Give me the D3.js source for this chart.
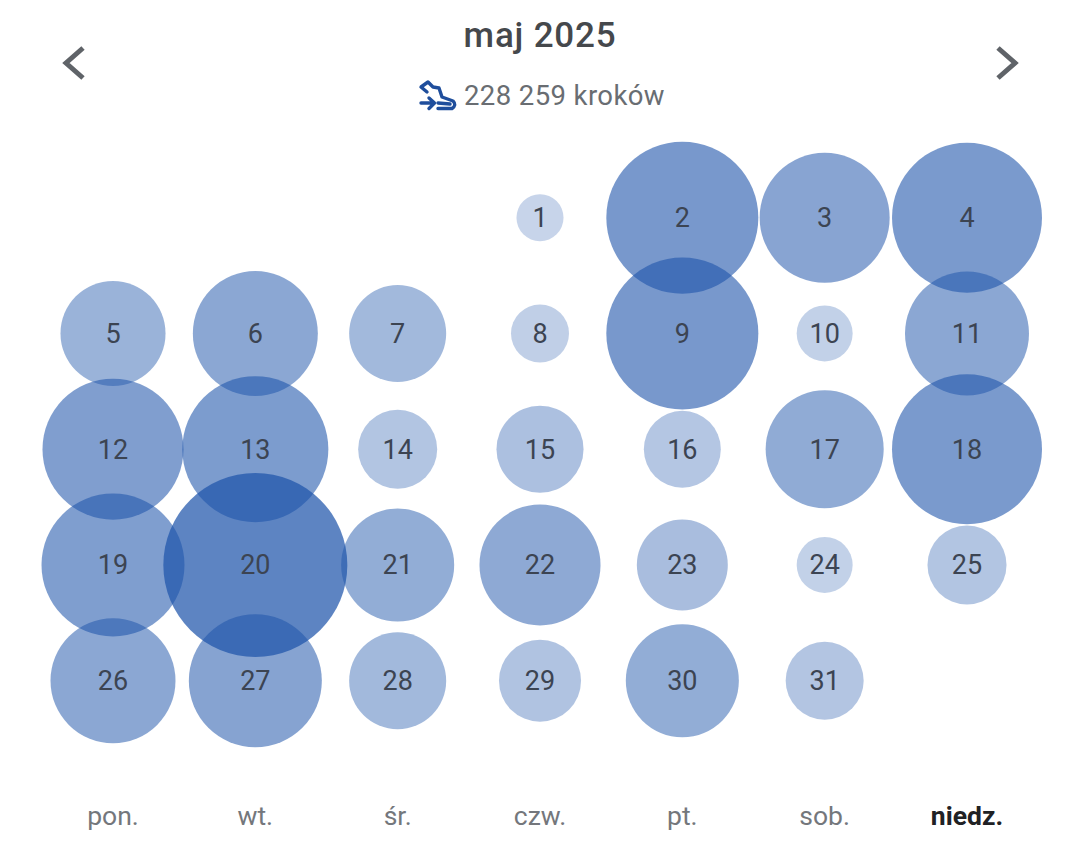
<!DOCTYPE html>
<html>
<head>
<meta charset="utf-8">
<script src="https://cdn.jsdelivr.net/npm/d3@7"></script>
<style>
html, body { margin: 0; background: #fff; }
text { font-family: Roboto, sans-serif; }
</style>
</head>
<body>
<svg id="chart" width="1080" height="852"></svg>
<script>
var title = "maj 2025";
var totalLabel = "228 259 kroków";
var weekdays = ["pon.", "wt.", "śr.", "czw.", "pt.", "sob.", "niedz."];
var activeWeekday = "niedz.";
var rows = [0, 1, 2, 3, 4];
var firstWeekday = 3; // 1 May 2025 was a Thursday
var steps = [
    1230, 12840, 9390, 12500,
    6130, 8680, 5230, 1870, 12840, 1740, 8540,
    11050, 11850, 3470, 4210, 3290, 7740, 12500,
    11360, 18810, 7100, 8140, 4600, 1740, 3470,
    8680, 9830, 5230, 3740, 7100, 3380
];

var svg = d3.select("#chart");

var days = steps.map(function(v, i) {
    var slot = i + firstWeekday;
    return { day: i + 1, steps: v, col: weekdays[slot % 7], row: Math.floor(slot / 7) };
});

var x = d3.scalePoint().domain(weekdays).range([113, 967]);
var y = d3.scalePoint().domain(rows).range([217.7, 680.7]);
var r = d3.scaleSqrt().domain([0, 18810]).range([0, 92]);
var alpha = d3.scaleLinear().domain([1200, 7000, 12800, 18810]).range([0.25, 0.48, 0.6, 0.72]);

// bubbles
svg.append("g").selectAll("circle")
    .data(days)
    .enter()
    .append("circle")
    .attr("cx", function(d) { return x(d.col); })
    .attr("cy", function(d) { return y(d.row); })
    .attr("r", function(d) { return r(d.steps); })
    .attr("fill", "#1e54aa")
    .attr("fill-opacity", function(d) { return alpha(d.steps); });

// day numbers
svg.append("g").selectAll("text")
    .data(days)
    .enter()
    .append("text")
    .attr("x", function(d) { return x(d.col); })
    .attr("y", function(d) { return y(d.row) + 9.5; })
    .attr("text-anchor", "middle")
    .attr("font-size", 27)
    .attr("fill", "#3c4452")
    .text(function(d) { return d.day; });

// weekday labels
svg.append("g").selectAll("text")
    .data(weekdays)
    .enter()
    .append("text")
    .attr("x", function(d) { return x(d); })
    .attr("y", 825)
    .attr("text-anchor", "middle")
    .attr("font-size", 26.5)
    .attr("font-weight", function(d) { return d === activeWeekday ? 700 : 400; })
    .attr("fill", function(d) { return d === activeWeekday ? "#202124" : "#74777c"; })
    .text(function(d) { return d; });

// header
svg.append("text")
    .attr("x", 540).attr("y", 47)
    .attr("text-anchor", "middle")
    .attr("font-size", 35)
    .attr("font-weight", 500)
    .attr("letter-spacing", 0.8)
    .attr("fill", "#45484c")
    .text(title);

svg.append("text")
    .attr("x", 464).attr("y", 105)
    .attr("font-size", 27.5)
    .attr("letter-spacing", 0.4)
    .attr("fill", "#696d72")
    .text(totalLabel);

// month arrows
svg.append("path")
    .attr("d", "M83,48 L66,63 L83,78")
    .attr("fill", "none").attr("stroke", "#5f6368").attr("stroke-width", 5);
svg.append("path")
    .attr("d", "M998,48 L1015,63 L998,78")
    .attr("fill", "none").attr("stroke", "#5f6368").attr("stroke-width", 5);

// shoe icon
var shoe = svg.append("g")
    .attr("fill", "none").attr("stroke", "#1f4e9c").attr("stroke-width", 3.4)
    .attr("stroke-linejoin", "round").attr("stroke-linecap", "round");
shoe.append("path").attr("d", "M427,92 L421,87 L428,82 L433,87 L439,88 L442,97 L453,101 Q457,105 452,108.5 L438,108.5");
shoe.append("path").attr("d", "M438,103 L450,104");
shoe.append("path").attr("d", "M421,103 L434,103 M429,98 L434.5,103 L429,108.5");
</script>
</body>
</html>
